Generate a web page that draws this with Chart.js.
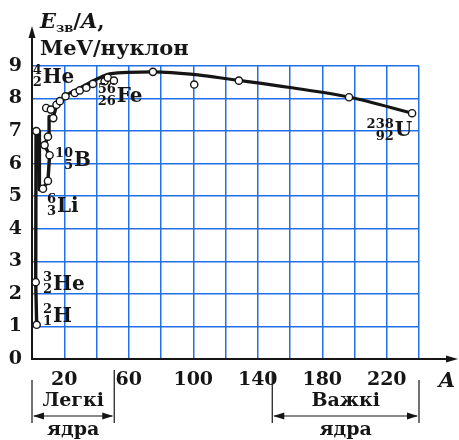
<!DOCTYPE html>
<html>
<head>
<meta charset="utf-8">
<script src="https://cdn.jsdelivr.net/npm/chart.js@4.4.1/dist/chart.umd.min.js"></script>
<style>
  html, body { margin: 0; padding: 0; background: #ffffff; }
  #wrap { width: 459px; height: 440px; position: relative; }
</style>
</head>
<body>
<div id="wrap"><canvas id="c" width="459" height="440"></canvas></div>
<script>
// ---- data ----
// mass number A of the plotted nuclei (circles) and their binding energy per nucleon (MeV)
const pointA = [2.9, 2.3, 2.7, 6.8, 9.9, 10.9, 7.8, 9.9, 8.8, 11.7, 13.2, 15.2, 17.3, 20.8, 26.5, 29.6, 33.7, 37.8, 45, 47, 50.8, 75, 100.6, 128.3, 196.6, 235.7];
const pointE = [1.05, 2.36, 7.0, 5.23, 5.47, 6.26, 6.57, 6.83, 7.71, 7.66, 7.4, 7.81, 7.92, 8.07, 8.17, 8.25, 8.33, 8.45, 8.53, 8.64, 8.55, 8.82, 8.43, 8.55, 8.04, 7.55];
// drawn curve, light-nuclei zigzag part
const steepA = [2.9, 2.3, 2.5, 4.5, 4.6, 6.8, 9.9, 10.9, 7.8, 9.9, 10.6, 10.6, 13.2];
const steepE = [1.05, 2.36, 7.05, 7.0, 5.2, 5.23, 5.47, 6.26, 6.57, 6.83, 6.85, 7.45, 7.42];
// drawn curve, smooth part
const curveA = [13.2, 15.2, 17.3, 20.4, 31.7, 42, 48, 75, 104, 122, 160, 197, 236];
const curveE = [7.42, 7.75, 7.92, 8.07, 8.38, 8.64, 8.76, 8.82, 8.72, 8.6, 8.34, 8.04, 7.55];
// tick labels
const tickLabelsX = [20, 60, 100, 140, 180, 220];
const tickLabelsY = [0, 1, 2, 3, 4, 5, 6, 7, 8, 9];
// nuclide annotations
const nuclideSymbol = ['He', 'Fe', 'B', 'Li', 'He', 'H', 'U'];
const nuclideMass = ['4', '56', '10', '6', '3', '2', '238'];
const nuclideCharge = ['2', '26', '5', '3', '2', '1', '92'];
// texts
const yTitleLine1 = ['E', 'зв', '/', 'A', ','];
const yTitleLine2 = 'MeV/нуклон';
const xTitle = 'A';
const groupTop = ['Легкі', 'Важкі'];
const groupBottom = ['ядра', 'ядра'];

// ---- placement (kept apart from the data) ----
const labelAnchorA = [0.4, 40.7, 14.2, 9.3, 6.8, 6.8, 207.5];
const labelAnchorE = [8.67, 8.08, 6.13, 4.7, 2.32, 1.33, 7.03];
const groupRangeA = [[0, 51], [149, 240]];

const SERIF = '"DejaVu Serif", "Liberation Serif", serif';
const GRID = '#2270e6';
const INK = '#151515';

const toXY = (xs, ys) => xs.map((x, i) => ({ x: x, y: ys[i] }));

const decor = {
  id: 'decor',
  afterDraw(chart) {
    const ctx = chart.ctx;
    const xs = chart.scales.x, ys = chart.scales.y;
    const ca = chart.chartArea;
    ctx.save();
    ctx.strokeStyle = INK; ctx.fillStyle = INK;
    // y axis arrow
    ctx.lineWidth = 2;
    ctx.beginPath(); ctx.moveTo(ca.left, ca.top); ctx.lineTo(ca.left, 30); ctx.stroke();
    ctx.beginPath(); ctx.moveTo(ca.left, 26); ctx.lineTo(ca.left - 3.5, 38); ctx.lineTo(ca.left + 3.5, 38); ctx.closePath(); ctx.fill();
    // x axis arrow
    ctx.beginPath(); ctx.moveTo(ca.right, ca.bottom); ctx.lineTo(452, ca.bottom); ctx.stroke();
    ctx.beginPath(); ctx.moveTo(458, ca.bottom); ctx.lineTo(446, ca.bottom - 3.5); ctx.lineTo(446, ca.bottom + 3.5); ctx.closePath(); ctx.fill();

    // y title
    ctx.textBaseline = 'alphabetic'; ctx.textAlign = 'left';
    let x = 40;
    ctx.font = 'italic bold 21px ' + SERIF; ctx.fillText(yTitleLine1[0], x, 28); x += ctx.measureText(yTitleLine1[0]).width;
    ctx.font = 'bold 13px ' + SERIF; ctx.fillText(yTitleLine1[1], x, 32); x += ctx.measureText(yTitleLine1[1]).width;
    ctx.font = 'bold 21px ' + SERIF; ctx.fillText(yTitleLine1[2], x, 28); x += ctx.measureText(yTitleLine1[2]).width;
    ctx.font = 'italic bold 21px ' + SERIF; ctx.fillText(yTitleLine1[3], x, 28); x += ctx.measureText(yTitleLine1[3]).width;
    ctx.font = 'bold 21px ' + SERIF; ctx.fillText(yTitleLine1[4], x, 28);
    ctx.font = 'bold 21px ' + SERIF; ctx.fillText(yTitleLine2, 40, 55);

    // x title
    ctx.font = 'italic bold 21px ' + SERIF; ctx.textAlign = 'center'; ctx.textBaseline = 'middle';
    ctx.fillText(xTitle, 447, 382);

    // group brackets
    ctx.lineWidth = 1.2;
    groupRangeA.forEach((r, i) => {
      const x0 = xs.getPixelForValue(r[0]), x1 = xs.getPixelForValue(r[1]);
      const top0 = i === 0 ? 380 : 372, top1 = i === 0 ? 370 : 380;
      ctx.beginPath(); ctx.moveTo(x0, top0); ctx.lineTo(x0, 423); ctx.moveTo(x1, top1); ctx.lineTo(x1, 423); ctx.stroke();
      const ay = 416;
      ctx.beginPath(); ctx.moveTo(x0 + 2, ay); ctx.lineTo(x1 - 2, ay); ctx.stroke();
      ctx.beginPath(); ctx.moveTo(x0 + 1, ay); ctx.lineTo(x0 + 12, ay - 3.5); ctx.lineTo(x0 + 12, ay + 3.5); ctx.closePath(); ctx.fill();
      ctx.beginPath(); ctx.moveTo(x1 - 1, ay); ctx.lineTo(x1 - 12, ay - 3.5); ctx.lineTo(x1 - 12, ay + 3.5); ctx.closePath(); ctx.fill();
      const cx = (x0 + x1) / 2;
      ctx.font = 'bold 19px ' + SERIF; ctx.textAlign = 'center'; ctx.textBaseline = 'middle';
      ctx.fillText(groupTop[i], cx, 401);
      ctx.fillText(groupBottom[i], cx, 430);
    });

    // nuclide labels
    nuclideSymbol.forEach((s, i) => {
      const x0 = xs.getPixelForValue(labelAnchorA[i]);
      const yc = ys.getPixelForValue(labelAnchorE[i]);
      ctx.font = 'bold 13px ' + SERIF;
      const w = Math.max(ctx.measureText(nuclideMass[i]).width, ctx.measureText(nuclideCharge[i]).width);
      ctx.textAlign = 'right'; ctx.textBaseline = 'middle';
      ctx.fillText(nuclideMass[i], x0 + w, yc - 6);
      ctx.fillText(nuclideCharge[i], x0 + w, yc + 6);
      ctx.font = 'bold 20px ' + SERIF; ctx.textAlign = 'left';
      ctx.fillText(s, x0 + w + 1, yc + 1);
    });
    ctx.restore();
  }
};

const bg = {
  id: 'bg',
  beforeDraw(chart) {
    const ctx = chart.ctx;
    ctx.save(); ctx.fillStyle = '#ffffff'; ctx.fillRect(0, 0, chart.width, chart.height); ctx.restore();
  }
};

new Chart(document.getElementById('c'), {
  type: 'scatter',
  data: {
    datasets: [
      {
        label: 'nuclei', data: toXY(pointA, pointE), showLine: false, order: 0,
        pointRadius: 3.6, pointBackgroundColor: '#ffffff', pointBorderColor: INK, pointBorderWidth: 1.4
      },
      {
        label: 'curve light', data: toXY(steepA, steepE), showLine: true, order: 1,
        borderColor: INK, borderWidth: 3.4, tension: 0, pointRadius: 0, borderJoinStyle: 'round'
      },
      {
        label: 'curve', data: toXY(curveA, curveE), showLine: true, order: 2,
        borderColor: INK, borderWidth: 3.2, cubicInterpolationMode: 'monotone', pointRadius: 0
      }
    ]
  },
  options: {
    responsive: false, animation: false, devicePixelRatio: 1,
    layout: { padding: { top: 66, right: 40, left: 0, bottom: 0 } },
    plugins: { legend: { display: false }, tooltip: { enabled: false } },
    scales: {
      x: {
        type: 'linear', min: 0, max: 240,
        afterFit(s) { s.height = 81; },
        grid: { color: GRID, lineWidth: 1.5, drawTicks: false },
        border: { color: INK, width: 2 },
        ticks: {
          stepSize: 20, autoSkip: false, maxRotation: 0, padding: 10, color: INK,
          font: { family: SERIF, size: 19, weight: 'bold' },
          callback: (v) => tickLabelsX.includes(v) ? String(v) : ''
        }
      },
      y: {
        type: 'linear', min: 0, max: 9,
        afterFit(s) { s.width = 32; },
        grid: { color: GRID, lineWidth: 1.5, drawTicks: false },
        border: { color: INK, width: 2 },
        ticks: {
          stepSize: 1, padding: 10, color: INK,
          font: { family: SERIF, size: 19, weight: 'bold' },
          callback: (v) => tickLabelsY.includes(v) ? String(v) : ''
        }
      }
    }
  },
  plugins: [bg, decor]
});
</script>
</body>
</html>
